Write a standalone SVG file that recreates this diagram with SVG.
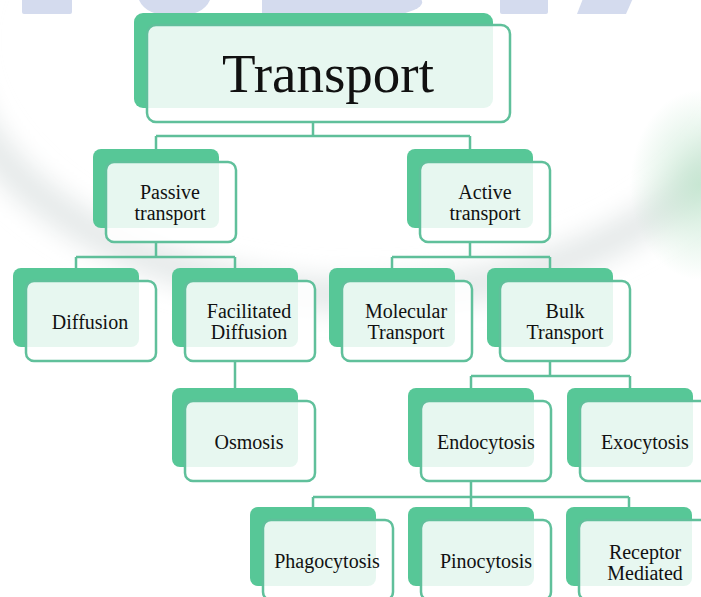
<svg xmlns="http://www.w3.org/2000/svg" width="701" height="597" viewBox="0 0 701 597">
  <defs>
    <style>
      .bk { fill: #57c797; }
      .fr { fill: #ffffff; fill-opacity: 0.86; stroke: #60c09b; stroke-width: 2.5; }
      .t { font-family: "Liberation Serif", "Times New Roman", serif; font-size: 20px; fill: #111111; text-anchor: middle; }
      .c { stroke: #5fbf9a; stroke-width: 2.5; fill: none; }
      .wm { fill: #d4dbee; }
    </style>
    <filter id="blur" x="-20%" y="-20%" width="140%" height="140%">
      <feGaussianBlur stdDeviation="12"/>
    </filter>
    <radialGradient id="glow" cx="0.5" cy="0.5" r="0.5">
      <stop offset="0" stop-color="#bfe5cc" stop-opacity="0.8"/>
      <stop offset="1" stop-color="#bfe5cc" stop-opacity="0"/>
    </radialGradient>
  </defs>

  <rect x="0" y="0" width="701" height="597" fill="#ffffff"/>

  <g id="background">
    <ellipse cx="360" cy="40" rx="405" ry="255" fill="none" stroke="#e6eaea" stroke-width="34" filter="url(#blur)"/>
    <ellipse cx="700" cy="185" rx="70" ry="95" fill="url(#glow)"/>
    <rect class="wm" x="22" y="-6" width="50" height="20" rx="2"/>
    <path class="wm" d="M139 0 H210 Q203 16 175 16 Q146 16 139 0 Z"/>
    <path class="wm" d="M262 -4 H418 Q428 4 414 10 Q400 16 378 16 H262 Z"/>
    <rect class="wm" x="500" y="-6" width="48" height="20" rx="2"/>
    <path class="wm" d="M584 -4 H634 L626 14 H577 Z"/>
  </g>

  <g id="connectors">
    <path class="c" d="M313 122 V136 M156 136 H470 M156 136 V149 M470 136 V149"/>
    <path class="c" d="M156 242 V257 M76 257 H235 M76 257 V268 M235 257 V268"/>
    <path class="c" d="M470 242 V257 M392 257 H550 M392 257 V268 M550 257 V268"/>
    <path class="c" d="M235 362 V388"/>
    <path class="c" d="M550 362 V376 M471 376 H630 M471 376 V388 M630 376 V388"/>
    <path class="c" d="M471 482 V497 M313 497 H629 M313 497 V507 M471 497 V507 M629 497 V507"/>
  </g>

  <g id="transport">
    <rect class="bk" x="134" y="13" width="359" height="95" rx="9"/>
    <rect class="fr" x="147" y="25" width="363" height="97" rx="9"/>
    <text class="t" x="328" y="92" style="font-size:55px">Transport</text>
  </g>

  <g id="passive" transform="translate(93,149)">
    <rect class="bk" width="126" height="79" rx="8"/>
    <rect class="fr" x="13" y="13" width="130" height="80" rx="8"/>
    <text class="t" x="77" y="50">Passive</text>
    <text class="t" x="77" y="71">transport</text>
  </g>

  <g id="active" transform="translate(407,149)">
    <rect class="bk" width="126" height="79" rx="8"/>
    <rect class="fr" x="13" y="13" width="130" height="80" rx="8"/>
    <text class="t" x="78" y="50">Active</text>
    <text class="t" x="78" y="71">transport</text>
  </g>

  <g id="diffusion" transform="translate(13,268)">
    <rect class="bk" width="126" height="79" rx="8"/>
    <rect class="fr" x="13" y="13" width="130" height="80" rx="8"/>
    <text class="t" x="77" y="61">Diffusion</text>
  </g>

  <g id="facilitated" transform="translate(172,268)">
    <rect class="bk" width="126" height="79" rx="8"/>
    <rect class="fr" x="13" y="13" width="130" height="80" rx="8"/>
    <text class="t" x="77" y="50">Facilitated</text>
    <text class="t" x="77" y="71">Diffusion</text>
  </g>

  <g id="molecular" transform="translate(329,268)">
    <rect class="bk" width="126" height="79" rx="8"/>
    <rect class="fr" x="13" y="13" width="130" height="80" rx="8"/>
    <text class="t" x="77" y="50">Molecular</text>
    <text class="t" x="77" y="71">Transport</text>
  </g>

  <g id="bulk" transform="translate(487,268)">
    <rect class="bk" width="126" height="79" rx="8"/>
    <rect class="fr" x="13" y="13" width="130" height="80" rx="8"/>
    <text class="t" x="78" y="50">Bulk</text>
    <text class="t" x="78" y="71">Transport</text>
  </g>

  <g id="osmosis" transform="translate(172,388)">
    <rect class="bk" width="126" height="79" rx="8"/>
    <rect class="fr" x="13" y="13" width="130" height="80" rx="8"/>
    <text class="t" x="77" y="61">Osmosis</text>
  </g>

  <g id="endocytosis" transform="translate(408,388)">
    <rect class="bk" width="126" height="79" rx="8"/>
    <rect class="fr" x="13" y="13" width="130" height="80" rx="8"/>
    <text class="t" x="78" y="61">Endocytosis</text>
  </g>

  <g id="exocytosis" transform="translate(567,388)">
    <rect class="bk" width="126" height="79" rx="8"/>
    <rect class="fr" x="13" y="13" width="130" height="80" rx="8"/>
    <text class="t" x="78" y="61">Exocytosis</text>
  </g>

  <g id="phagocytosis" transform="translate(250,507)">
    <rect class="bk" width="126" height="79" rx="8"/>
    <rect class="fr" x="13" y="13" width="130" height="80" rx="8"/>
    <text class="t" x="77" y="61">Phagocytosis</text>
  </g>

  <g id="pinocytosis" transform="translate(408,507)">
    <rect class="bk" width="126" height="79" rx="8"/>
    <rect class="fr" x="13" y="13" width="130" height="80" rx="8"/>
    <text class="t" x="78" y="61">Pinocytosis</text>
  </g>

  <g id="receptor" transform="translate(566,507)">
    <rect class="bk" width="126" height="79" rx="8"/>
    <rect class="fr" x="13" y="13" width="130" height="80" rx="8"/>
    <text class="t" x="79" y="52">Receptor</text>
    <text class="t" x="79" y="73">Mediated</text>
  </g>
</svg>
